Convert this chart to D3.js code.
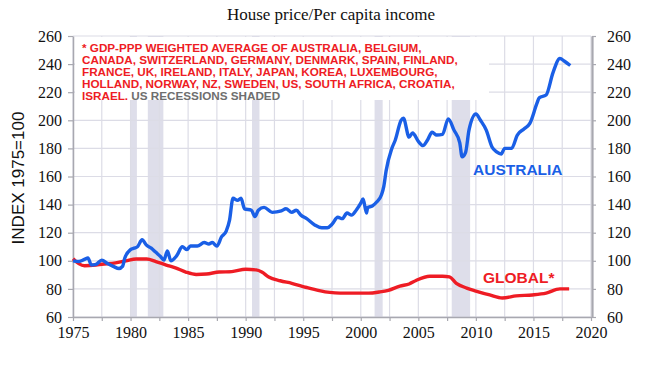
<!DOCTYPE html>
<html><head><meta charset="utf-8">
<script src="https://cdn.jsdelivr.net/npm/d3@7/dist/d3.min.js"></script>
<style>body{margin:0;background:#fff}svg{display:block}</style>
</head><body>
<svg id="c" width="648" height="365"></svg>
<script>
const titleText = "House price/Per capita income";
const yAxisTitle = "INDEX 1975=100";
const yTicks = [60,80,100,120,140,160,180,200,220,240,260];
const xTickLabels = [1975,1980,1985,1990,1995,2000,2005,2010,2015,2020];
const xGridYears = d3.range(1975, 2020.1, 2.5);
const recessions = [[1980.0,1980.55],[1981.5,1982.85],[1990.55,1991.2],[2001.2,2001.9],[2007.9,2009.5]];

const ausYears = [1975.0,1975.5,1976.0,1976.3,1976.6,1977.0,1977.5,1978.0,1978.5,1979.0,1979.3,1979.5,1980.0,1980.3,1980.6,1981.0,1981.4,1981.8,1982.2,1982.6,1982.9,1983.2,1983.5,1984.0,1984.5,1984.9,1985.2,1985.8,1986.4,1986.8,1987.1,1987.5,1987.9,1988.3,1988.6,1988.9,1989.3,1989.6,1989.9,1990.5,1990.8,1991.1,1991.6,1992.3,1993.1,1993.5,1994.0,1994.4,1994.8,1995.3,1996.0,1996.6,1997.1,1997.5,1998.0,1998.4,1998.8,1999.2,1999.6,2000.0,2000.2,2000.5,2000.6,2001.0,2001.4,2001.8,2002.0,2002.2,2002.7,2003.0,2003.5,2003.7,2004.2,2004.5,2005.0,2005.4,2005.8,2006.2,2006.6,2007.1,2007.6,2008.1,2008.6,2008.8,2009.1,2009.4,2010.0,2010.4,2010.9,2011.4,2011.8,2012.2,2012.5,2013.1,2013.6,2014.2,2014.7,2015.3,2015.5,2016.1,2016.7,2017.3,2017.7,2018.2];
const ausValues = [100,99.5,101,102,97,97.5,100.5,98,96,94.5,96,102,108,109,110,115,111,109,106,103,100.5,107,100,103.5,110,108,110.5,110.5,113,112,113,110.5,117,121,129,144.5,143,144.5,137,136,131.5,136,138,134.5,135.5,137,134.5,136,132.5,130,125.5,123.5,123.5,126,131,130,134,132.5,136,141,144,134,138,139,142,147,153,164,180,186,200,201.5,188,191,185,182,186,191.5,189.5,190,201,193,184,174,177,193,204.5,200,193,181,177.5,176,180,180,189.5,194,198,212,216,218,234,244,242,239];

const globYears = [1975.0,1975.5,1976.0,1977.0,1977.5,1978.7,1979.6,1980.5,1981.4,1982.2,1983.1,1983.9,1984.8,1985.7,1986.6,1987.7,1988.8,1990.0,1990.9,1991.4,1992.0,1993.0,1994.0,1995.3,1996.4,1997.3,1998.2,1999.5,2000.7,2001.6,2002.4,2003.4,2004.2,2004.8,2006.0,2007.1,2007.7,2008.3,2009.2,2010.0,2011.2,2012.3,2013.5,2014.9,2016.1,2017.3,2018.1];
const globValues = [101.5,98,96.5,97,97.5,98.5,100,101.3,101.3,99.5,97,95,92,90.3,90.6,92,92.3,94,93.5,92,88.5,85.8,84,81,78.8,77.5,77,77,77,77.8,79,82,83.5,86,89,89,88.5,84,80.6,78.5,75.7,73.5,75,75.7,77,80,80];

const noteLines = [
  [["* GDP-PPP WEIGHTED AVERAGE OF AUSTRALIA, BELGIUM,","red"]],
  [["CANADA, SWITZERLAND, GERMANY, DENMARK, SPAIN, FINLAND,","red"]],
  [["FRANCE, UK, IRELAND, ITALY, JAPAN, KOREA, LUXEMBOURG,","red"]],
  [["HOLLAND, NORWAY, NZ, SWEDEN, US, SOUTH AFRICA, CROATIA,","red"]],
  [["ISRAEL. ","red"],["US RECESSIONS SHADED","gray"]]
];

const RED = "#ee1c24", BLUE = "#1a5fe6", GRID = "#dcdce6", AXIS = "#a8a8b0";
const svg = d3.select("#c");
const x = d3.scaleLinear().domain([1975, 2020]).range([73, 591]);
const y = d3.scaleLinear().domain([60, 260]).range([317, 36]);

// recession shading
svg.append("g").selectAll("rect").data(recessions).join("rect")
  .attr("x", d => x(d[0])).attr("width", d => x(d[1]) - x(d[0]))
  .attr("y", y(260)).attr("height", y(60) - y(260))
  .attr("fill", "#dedeea");

// grid
const g = svg.append("g").attr("stroke", GRID).attr("stroke-width", 1.2);
g.selectAll("line.h").data(yTicks).join("line")
  .attr("x1", x(1975)).attr("x2", x(2020)).attr("y1", d => y(d)).attr("y2", d => y(d));
g.selectAll("line.v").data(xGridYears).join("line")
  .attr("y1", y(60)).attr("y2", y(260)).attr("x1", d => x(d)).attr("x2", d => x(d));

// white box behind note
svg.append("rect").attr("x", x(1975) + 2).attr("y", y(260) + 1)
  .attr("width", 414).attr("height", 63).attr("fill", "#fff");

// axes
const serif = "'Liberation Serif', 'Times New Roman', serif";
function styleAxis(sel) {
  sel.select(".domain").attr("stroke", AXIS).attr("stroke-width", 1.5);
  sel.selectAll(".tick line").attr("stroke", AXIS).attr("stroke-width", 1.2);
  sel.selectAll(".tick text").attr("font-family", serif).attr("font-size", 16).attr("fill", "#111");
}
svg.append("g").attr("transform", `translate(${x(1975)},0)`)
  .call(d3.axisLeft(y).tickValues(yTicks).tickSize(5).tickSizeOuter(0).tickPadding(6))
  .call(styleAxis);
svg.append("g").attr("transform", `translate(${x(2020)+1},0)`)
  .call(d3.axisRight(y).tickValues(yTicks).tickSize(4).tickSizeOuter(0).tickPadding(11))
  .call(styleAxis)
  .call(s => s.select(".domain").attr("stroke-width", 2.2));
svg.append("g").attr("transform", `translate(0,${y(60)})`)
  .call(d3.axisBottom(x).tickValues(xGridYears).tickSize(4).tickSizeOuter(0).tickPadding(6)
    .tickFormat(d => xTickLabels.includes(d) ? d : ""))
  .call(styleAxis);

// lines
const line = d3.line().x(d => x(d[0])).y(d => y(d[1])).curve(d3.curveMonotoneX);
svg.append("path").datum(d3.zip(globYears, globValues)).attr("d", line)
  .attr("fill", "none").attr("stroke", RED).attr("stroke-width", 3.4).attr("stroke-linejoin", "round");
svg.append("path").datum(d3.zip(ausYears, ausValues)).attr("d", line)
  .attr("fill", "none").attr("stroke", BLUE).attr("stroke-width", 3.4).attr("stroke-linejoin", "round");

// title
svg.append("text").attr("x", 331).attr("y", 20).attr("text-anchor", "middle")
  .attr("font-family", serif).attr("font-size", 17).attr("fill", "#111").text(titleText);

// y title
svg.append("text").attr("transform", "translate(24,178) rotate(-90)").attr("text-anchor", "middle")
  .attr("font-family", "'Liberation Sans', Arial, sans-serif").attr("font-size", 17).attr("fill", "#111")
  .text(yAxisTitle);

// note
const note = svg.append("text").attr("font-family", "'Liberation Sans', Arial, sans-serif")
  .attr("font-size", 11.7).attr("font-weight", "bold");
noteLines.forEach((ln, i) => {
  ln.forEach((seg, j) => {
    const t = note.append("tspan").attr("fill", seg[1] === "red" ? RED : "#6e6e6e").text(seg[0]);
    if (j === 0) t.attr("x", 82).attr("y", 51.5 + i * 12);
  });
});

// series labels
svg.append("text").attr("x", 473).attr("y", 175).attr("font-family", "'Liberation Sans', Arial, sans-serif")
  .attr("font-size", 15.5).attr("font-weight", "bold").attr("fill", BLUE).text("AUSTRALIA");
svg.append("text").attr("x", 483).attr("y", 283).attr("font-family", "'Liberation Sans', Arial, sans-serif")
  .attr("font-size", 15.5).attr("font-weight", "bold").attr("fill", RED).text("GLOBAL*");
</script>
</body></html>
